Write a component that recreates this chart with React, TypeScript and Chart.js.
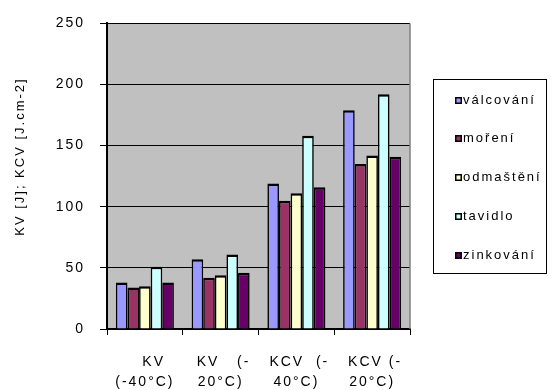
import React, { useEffect, useRef } from "react";
import { Chart, registerables } from "chart.js";

Chart.register(...registerables);

// Category labels, already split into the two lines shown under each group
const categories: string[][] = [
  ["   KV", "(-40°C)"],
  [" KV   (-", "20°C)"],
  [" KCV  (-", "40°C)"],
  [" KCV (-", "20°C)"],
];

// Treatment stages (series)
const seriesNames = ["válcování", "moření", "odmaštění", "tavidlo", "zinkování"];
const seriesColors = ["#9999FF", "#993366", "#FFFFCC", "#CCFFFF", "#660066"];

// Impact energy per stage and test
const valcovani = [38, 57, 119, 179];
const moreni = [34, 42, 105, 135];
const odmasteni = [35, 44, 111, 142];
const tavidlo = [51, 61, 158, 192];
const zinkovani = [38, 46, 116, 141];

const yTicks = [0, 50, 100, 150, 200, 250];
const yTitle = "KV [J]; KCV [J.cm-2]";

const FONT = "'Liberation Sans', Arial, Helvetica, sans-serif";
const TRACKING = "2px";

// Wide letter spacing used by all chart text
const trackingPlugin = {
  id: "tracking",
  beforeLayout(chart: any) {
    chart.ctx.letterSpacing = TRACKING;
  },
  beforeDraw(chart: any) {
    chart.ctx.letterSpacing = TRACKING;
  },
};

// Grey plot area with a darker frame on the right
const plotFrame = {
  id: "plotFrame",
  beforeDraw(chart: any) {
    const { ctx, chartArea: a } = chart;
    ctx.save();
    ctx.fillStyle = "#C0C0C0";
    ctx.fillRect(a.left, a.top, a.right - a.left, a.bottom - a.top);
    ctx.restore();
  },
  afterDraw(chart: any) {
    const { ctx, chartArea: a } = chart;
    ctx.save();
    ctx.strokeStyle = "#808080";
    ctx.lineWidth = 1.5;
    ctx.beginPath();
    ctx.moveTo(a.right, a.top);
    ctx.lineTo(a.right, a.bottom);
    ctx.stroke();
    ctx.restore();
  },
};

// Boxed legend to the right of the plot
const boxedLegend = {
  id: "boxedLegend",
  afterDraw(chart: any) {
    const { ctx, chartArea: a } = chart;
    const datasets = chart.data.datasets;
    const boxW = 113;
    const boxH = 194;
    const rowStep = 38.8;
    const left = Math.round(a.right + 23);
    const midY = (a.top + a.bottom) / 2;
    const top = Math.round(midY - boxH / 2);
    ctx.save();
    ctx.fillStyle = "#FFFFFF";
    ctx.fillRect(left, top, boxW, boxH);
    ctx.strokeStyle = "#000000";
    ctx.lineWidth = 1;
    ctx.strokeRect(left + 0.5, top + 0.5, boxW, boxH);
    ctx.letterSpacing = TRACKING;
    ctx.font = `13px ${FONT}`;
    ctx.textBaseline = "middle";
    ctx.textAlign = "left";
    datasets.forEach((ds: any, i: number) => {
      const cy = Math.round(midY + (i - (datasets.length - 1) / 2) * rowStep + 1);
      const sx = left + 22;
      ctx.fillStyle = ds.backgroundColor;
      ctx.fillRect(sx, cy - 3, 7, 7);
      ctx.strokeStyle = "#000000";
      ctx.lineWidth = 1.5;
      ctx.strokeRect(sx + 0.75, cy - 2.25, 5.5, 5.5);
      ctx.fillStyle = "#000000";
      ctx.fillText(ds.label, sx + 8, cy + 0.5);
    });
    ctx.restore();
  },
};

export default function App() {
  const canvasRef = useRef<HTMLCanvasElement | null>(null);

  useEffect(() => {
    const canvas = canvasRef.current;
    if (!canvas) return;
    const values = [valcovani, moreni, odmasteni, tavidlo, zinkovani];
    const chart = new Chart(canvas, {
      type: "bar",
      data: {
        labels: categories,
        datasets: seriesNames.map((name, i) => ({
          label: name,
          data: values[i],
          backgroundColor: seriesColors[i],
          borderColor: "#000000",
          borderWidth: { top: 2.5, left: 1.6, right: 1.6, bottom: 0 },
          borderSkipped: "start",
          categoryPercentage: 0.766,
          barPercentage: 1.0,
        })),
      },
      options: {
        animation: false,
        responsive: false,
        maintainAspectRatio: false,
        layout: { padding: { top: 20, right: 143, bottom: 0, left: 0 } },
        plugins: {
          legend: { display: false },
          tooltip: { enabled: false },
        },
        scales: {
          x: {
            ticks: {
              color: "#000000",
              font: { family: FONT, size: 14, lineHeight: "20px" },
              padding: 17,
              autoSkip: false,
              maxRotation: 0,
              minRotation: 0,
            },
            grid: {
              display: true,
              drawOnChartArea: false,
              drawTicks: true,
              tickLength: 6,
              color: "#000000",
              offset: true,
            },
            border: { display: true, color: "#000000", width: 2 },
            afterFit: (s: any) => {
              s.height = 61;
            },
          },
          y: {
            min: 0,
            max: 250,
            afterBuildTicks: (s: any) => {
              s.ticks = yTicks.map((v) => ({ value: v }));
            },
            ticks: {
              color: "#000000",
              font: { family: FONT, size: 14 },
              padding: 15,
            },
            grid: {
              color: "#000000",
              lineWidth: 1,
              drawTicks: true,
              tickLength: 7,
              tickColor: "#000000",
            },
            border: { display: true, color: "#000000", width: 2 },
            title: {
              display: true,
              text: "       " + yTitle,
              color: "#000000",
              font: { family: FONT, size: 13 },
              padding: { top: 13, bottom: 0 },
            },
            afterFit: (s: any) => {
              s.width = 107;
            },
          },
        },
      },
      plugins: [trackingPlugin, plotFrame, boxedLegend],
    });
    return () => chart.destroy();
  }, []);

  return (
    <div style={{ position: "absolute", left: 0, top: 0, width: 553, height: 390, background: "#FFFFFF" }}>
      <canvas ref={canvasRef} width={553} height={390} style={{ display: "block", width: 553, height: 390 }} />
    </div>
  );
}
